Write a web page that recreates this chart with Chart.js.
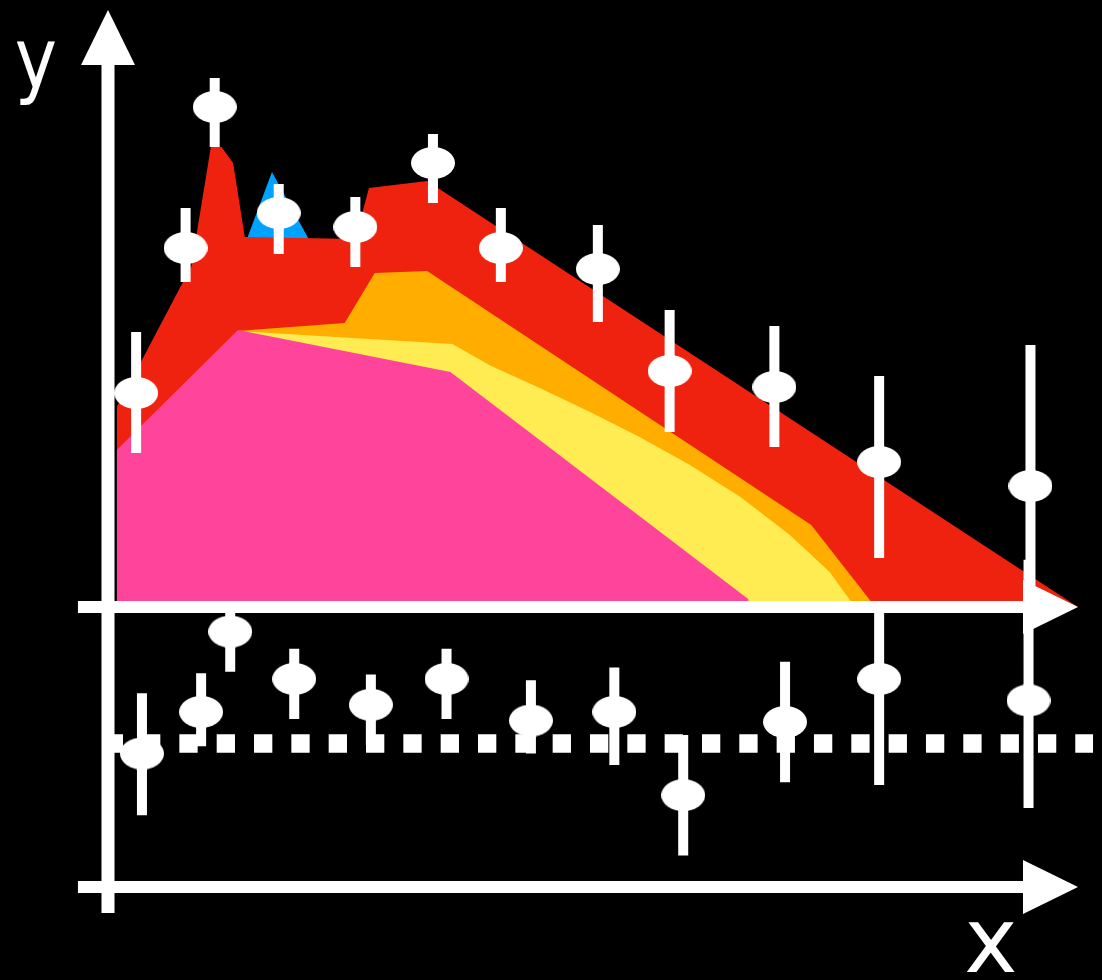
<!DOCTYPE html>
<html>
<head>
<meta charset="utf-8">
<script src="https://cdn.jsdelivr.net/npm/chart.js@4.4.1/dist/chart.umd.min.js"></script>
<style>
  html, body { margin: 0; padding: 0; background: #000; }
  canvas { display: block; }
</style>
</head>
<body>
<canvas id="c" width="1102" height="980"></canvas>
<script>
// ---- measured data (upper panel) ----
const binX   = [0.29, 0.80, 1.10, 1.76, 2.55, 3.35, 4.05, 5.05, 5.79, 6.87, 7.95, 9.51];
const dataY  = [2.14, 3.59, 5.00, 3.94, 3.80, 4.44, 3.59, 3.38, 2.36, 2.20, 1.45, 1.21];
const dataLo = [1.54, 3.25, 4.60, 3.53, 3.40, 4.04, 3.25, 2.85, 1.75, 1.60, 0.49, 0.02];
const dataHi = [2.75, 3.99, 5.29, 4.23, 4.10, 4.73, 3.99, 3.82, 2.97, 2.81, 2.31, 2.62];

// ---- data / model ratio (lower panel) ----
const ratioX  = [0.35, 0.96, 1.26, 1.92, 2.71, 3.49, 4.36, 5.22, 5.93, 6.98, 7.95, 9.49];
const ratioY  = [0.93, 1.22, 1.78, 1.45, 1.27, 1.45, 1.16, 1.22, 0.64, 1.15, 1.45, 1.30];
const ratioLo = [0.50, 0.98, 1.50, 1.17, 0.99, 1.17, 0.93, 0.85, 0.22, 0.73, 0.71, 0.55];
const ratioHi = [1.35, 1.49, 1.98, 1.66, 1.48, 1.66, 1.44, 1.53, 1.06, 1.57, 1.92, 2.28];
const unityX  = [-0.034, 10.155];
const unityY  = [1, 1];

// ---- model components, upper edges ----
const redX    = [0.09, 0.35, 0.86, 1.06, 1.17, 1.29, 1.41, 2.55, 2.69, 3.29, 10.0];
const redY    = [2.00, 2.47, 3.41, 4.60, 4.60, 4.44, 3.70, 3.68, 4.19, 4.26, 0.00];
const blueX   = [1.44, 1.69, 2.08];
const blueY   = [3.70, 4.35, 3.66];
const orangeX = [1.33, 2.44, 2.75, 3.29, 7.25, 7.87, 7.88];
const orangeY = [2.76, 2.84, 3.34, 3.36, 0.82, 0.05, 0.00];
const yellowX = [1.33, 3.55, 3.94, 4.45, 4.97, 5.48, 6.00, 6.52, 7.03, 7.44, 7.70];
const yellowY = [2.76, 2.63, 2.415, 2.19, 1.95, 1.70, 1.42, 1.10, 0.72, 0.35, 0.00];
const pinkX   = [0.09, 1.34, 3.53, 6.60, 6.61];
const pinkY   = [1.57, 2.77, 2.35, 0.08, 0.00];

// left end of the drawn horizontal axes, in x units
const axisStartX = -0.31;

const pts = (xs, ys) => xs.map((v, i) => ({ x: v, y: ys[i] }));
const bars = (xs, lo, hi) => xs.flatMap((v, i) => [
  { x: v, y: lo[i] }, { x: v, y: hi[i] }, { x: v, y: null }
]);

// white ellipse used as the data marker
const marker = document.createElement('canvas');
marker.width = 44; marker.height = 32;
{
  const m = marker.getContext('2d');
  m.fillStyle = '#ffffff';
  m.beginPath();
  m.ellipse(22, 16, 22, 16, 0, 0, Math.PI * 2);
  m.fill();
}

const area = (xs, ys, color, order) => ({
  data: pts(xs, ys), yAxisID: 'y', fill: 'origin',
  backgroundColor: color, borderWidth: 0, pointRadius: 0, tension: 0, order
});

// thick white axes with arrow heads plus the axis letters
const axisArrows = {
  id: 'axisArrows',
  afterDatasetsDraw(chart) {
    const { ctx, chartArea, scales } = chart;
    const xs = scales.x, ys = scales.y, rs = scales.ratio;
    const x0 = xs.getPixelForValue(0);
    const xL = xs.getPixelForValue(axisStartX);
    const xR = chartArea.right;
    const head = 55, half = 27;
    ctx.save();
    ctx.fillStyle = '#ffffff';
    // vertical axis
    ctx.fillRect(x0 - 6.5, chartArea.top + head - 1, 13, chartArea.bottom - chartArea.top - head + 1);
    ctx.beginPath();
    ctx.moveTo(x0, chartArea.top);
    ctx.lineTo(x0 - half, chartArea.top + head);
    ctx.lineTo(x0 + half, chartArea.top + head);
    ctx.closePath();
    ctx.fill();
    // horizontal axes (upper panel baseline and lower panel baseline)
    [ys.getPixelForValue(0), rs.getPixelForValue(0)].forEach(py => {
      ctx.fillRect(xL, py - 6, xR - head - xL + 1, 12);
      ctx.beginPath();
      ctx.moveTo(xR, py);
      ctx.lineTo(xR - head, py - half);
      ctx.lineTo(xR - head, py + half);
      ctx.closePath();
      ctx.fill();
    });
    ctx.textAlign = 'center';
    ctx.textBaseline = 'alphabetic';
    ctx.save();
    ctx.translate(36, 88);
    ctx.scale(0.85, 1);
    ctx.font = '84px "DejaVu Sans"';
    ctx.fillText('y', 0, 0);
    ctx.restore();
    ctx.font = '90px "DejaVu Sans"';
    ctx.fillText('x', 991, 972);
    ctx.restore();
  }
};

new Chart(document.getElementById('c'), {
  type: 'line',
  data: {
    datasets: [
      // markers on top
      { data: pts(binX, dataY), yAxisID: 'y', showLine: false,
        pointStyle: marker, pointRadius: 16, order: 0 },
      { data: pts(ratioX, ratioY), yAxisID: 'ratio', showLine: false,
        pointStyle: marker, pointRadius: 16, order: 0 },
      // error bars
      { data: bars(binX, dataLo, dataHi), yAxisID: 'y', borderColor: '#ffffff',
        borderWidth: 10, pointRadius: 0, spanGaps: false, clip: false, order: 1 },
      { data: bars(ratioX, ratioLo, ratioHi), yAxisID: 'ratio', borderColor: '#ffffff',
        borderWidth: 10, pointRadius: 0, spanGaps: false, clip: false, order: 1 },
      // ratio = 1 reference
      { data: pts(unityX, unityY), yAxisID: 'ratio', borderColor: '#ffffff',
        borderWidth: 18.4, borderDash: [18.3, 19.03], pointRadius: 0, clip: false, order: 2 },
      // model components
      area(pinkX, pinkY, '#ff449b', 3),
      area(yellowX, yellowY, '#ffec52', 4),
      area(orangeX, orangeY, '#ffae00', 5),
      area(redX, redY, '#ee220e', 6),
      area(blueX, blueY, '#00a2ff', 7)
    ]
  },
  options: {
    responsive: false,
    animation: false,
    devicePixelRatio: 1,
    events: [],
    layout: { autoPadding: false, padding: { left: 108, right: 24, top: 10, bottom: 67 } },
    plugins: { legend: { display: false }, tooltip: { enabled: false } },
    scales: {
      x: { type: 'linear', axis: 'x', position: 'bottom', min: 0, max: 10, display: false },
      y: { type: 'linear', axis: 'y', position: 'left', min: -3.06, max: 5.97, display: false },
      ratio: { type: 'linear', axis: 'y', position: 'left', min: -0.1812, max: 6.1115, display: false }
    }
  },
  plugins: [axisArrows]
});
</script>
</body>
</html>
